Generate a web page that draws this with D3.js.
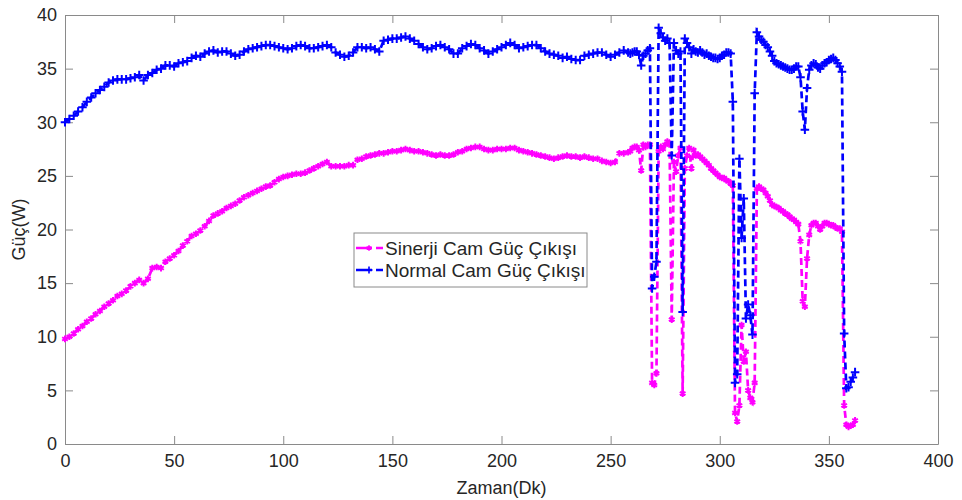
<!DOCTYPE html>
<html><head><meta charset="utf-8">
<script src="https://cdn.jsdelivr.net/npm/d3@7"></script>
<style>
body{margin:0;background:#fff}
svg{display:block}
text{font-family:"Liberation Sans",Arial,sans-serif}
</style>
</head><body>
<svg id="chart" width="962" height="500"></svg>
<script>
// ---- data ----
const minutes = [
0,2,4,6,8,10,12,14,16,18,20,22,24,26,28,30,32,34,36,38,
40,42,44,46,48,50,52,54,56,58,60,62,64,66,68,70,72,74,76,78,
80,82,84,86,88,90,92,94,96,98,100,102,104,106,108,110,112,114,116,118,
120,122,124,126,128,130,132,134,136,138,140,142,144,146,148,150,152,154,156,158,
160,162,164,166,168,170,172,174,176,178,180,182,184,186,188,190,192,194,196,198,
200,202,204,206,208,210,212,214,216,218,220,222,224,226,228,230,232,234,236,238,
240,242,244,246,248,250,252,254,256,258,
259,260,261,262,263,264,265,266,267,268,269,270,271,272,273,274,275,276,277,278,
279,280,281,282,283,284,285,286,287,288,289,290,291,292,293,294,295,296,297,298,
299,300,301,302,303,304,305,306,307,308,309,310,311,312,313,314,315,316,317,318,
319,320,321,322,323,324,325,326,327,328,329,330,331,332,333,334,335,336,337,338,
339,340,341,342,343,344,345,346,347,348,349,350,351,352,353,354,355,356,357,358,
359,360,361,362
];
const sinerjiPower = [
9.8,10.0,10.3,10.7,11.0,11.4,11.7,12.1,12.4,12.8,
13.1,13.4,13.8,14.0,14.3,14.7,15.0,15.3,15.0,15.4,
16.4,16.5,16.4,17.0,17.3,17.6,18.0,18.5,18.9,19.4,
19.6,19.9,20.3,20.8,21.3,21.5,21.7,22.0,22.2,22.4,
22.7,23.0,23.2,23.4,23.6,23.8,24.0,24.1,24.4,24.7,
24.9,25.0,25.1,25.2,25.2,25.3,25.5,25.7,25.9,26.1,
26.3,25.9,25.9,25.9,25.9,26.0,26.0,26.5,26.6,26.8,
26.9,27.0,27.1,27.1,27.2,27.3,27.3,27.4,27.5,27.4,
27.3,27.3,27.2,27.1,27.0,26.9,27.0,26.9,26.9,27.0,
27.2,27.3,27.5,27.6,27.7,27.7,27.5,27.4,27.4,27.5,
27.5,27.5,27.6,27.6,27.4,27.3,27.2,27.1,27.0,26.9,
26.8,26.7,26.6,26.7,26.8,26.9,26.8,26.8,26.7,26.8,
26.7,26.6,26.6,26.4,26.3,26.2,26.3,27.1,27.1,27.2,
27.3,27.6,27.7,27.7,27.4,25.5,27.9,27.7,27.9,27.9,
5.7,5.5,6.6,27.3,27.7,27.5,27.9,28.2,28.0,11.6,
26.3,25.4,26.9,27.6,4.7,25.7,26.9,27.6,25.7,27.4,
26.9,27.0,26.8,26.6,26.4,26.2,26.0,25.7,25.5,25.3,
25.1,24.9,24.8,24.8,24.6,24.5,24.3,24.1,2.9,2.1,
3.6,11.1,7.7,8.6,5.0,4.3,3.9,5.7,23.8,24.0,
23.8,23.7,23.4,23.1,22.7,22.3,22.2,22.1,22.0,21.8,
21.7,21.5,21.4,21.2,21.0,20.9,20.7,20.5,18.9,13.3,
12.8,17.3,19.5,20.4,20.6,20.6,20.3,20.0,20.3,20.6,
20.6,20.5,20.4,20.4,20.2,20.1,20.1,19.8,3.6,1.8,
1.6,1.7,1.8,2.2
];
const normalPower = [
30.0,30.3,30.6,31.0,31.4,31.9,32.3,32.7,33.0,33.3,
33.7,33.9,34.0,34.0,34.0,34.1,34.2,34.4,33.9,34.4,
34.6,34.9,35.0,35.3,35.3,35.2,35.5,35.6,35.7,36.0,
36.2,36.1,36.4,36.6,36.7,36.5,36.6,36.6,36.4,36.2,
36.3,36.6,36.8,36.9,37.0,37.1,37.2,37.2,37.1,37.0,
36.9,36.8,36.9,37.1,37.2,37.1,36.9,36.9,37.0,37.1,
37.2,37.0,36.5,36.3,36.1,36.2,36.5,37.0,37.0,36.9,
37.0,36.8,36.6,37.6,37.7,37.8,37.8,37.9,38.0,37.8,
37.6,37.3,37.0,36.8,36.9,37.1,37.2,37.0,36.8,36.4,
36.4,36.9,37.1,37.3,37.2,36.9,36.7,36.4,36.6,36.8,
37.0,37.2,37.4,37.2,36.9,37.0,37.1,37.2,37.2,36.9,
36.6,36.4,36.3,36.2,36.0,36.1,35.9,35.8,35.8,36.2,
36.3,36.4,36.5,36.5,36.3,36.1,36.3,36.5,36.7,36.5,
36.4,36.5,36.6,36.6,36.3,35.3,36.2,36.4,36.7,36.9,
14.5,15.6,17.0,38.8,38.3,37.9,37.6,37.8,37.4,26.9,
37.4,36.7,36.4,36.6,12.3,37.8,37.4,37.0,36.4,36.8,
36.6,36.5,36.7,36.5,36.3,36.4,36.2,36.1,36.0,36.0,
35.9,36.0,36.2,36.3,36.5,36.5,36.4,31.9,5.7,6.5,
26.6,19.2,22.9,11.7,13.0,12.0,10.2,32.7,38.4,38.0,
37.7,37.5,37.2,37.0,36.6,36.2,35.7,35.5,35.4,35.3,
35.2,35.1,35.0,34.9,34.9,35.0,35.2,35.2,34.2,31.0,
29.3,33.2,34.9,35.3,35.5,35.4,35.1,35.0,35.3,35.5,
35.6,35.8,35.9,36.0,35.8,35.5,35.2,34.7,10.3,5.2,
5.3,5.8,6.2,6.7
];
const seriesNames = ["Sinerji Cam Güç Çıkışı", "Normal Cam Güç Çıkışı"];
const seriesColors = ["#ff00ff", "#0000ff"];
const xTicks = [0, 50, 100, 150, 200, 250, 300, 350, 400];
const yTicks = [0, 5, 10, 15, 20, 25, 30, 35, 40];
const xLabel = "Zaman(Dk)";
const yLabel = "Güç(W)";

// ---- layout ----
const svg = d3.select("#chart");
const L = 65, R = 938, T = 15, B = 444;
const axisColor = "#8a8a8a", textColor = "#262626";

svg.append("rect").attr("width", 962).attr("height", 500).attr("fill", "#fff");

const x = d3.scaleLinear().domain([0, 400]).range([L, R]);
const y = d3.scaleLinear().domain([0, 40]).range([B, T]);

function styleAxis(g) {
  g.select(".domain").attr("stroke", axisColor);
  g.selectAll(".tick line").attr("stroke", axisColor);
  g.selectAll(".tick text").attr("fill", textColor).style("font-size", "18px")
    .style("font-family", '"Liberation Sans", Arial, sans-serif');
}

svg.append("g").attr("transform", `translate(0,${B})`)
  .call(d3.axisBottom(x).tickValues(xTicks).tickSizeInner(-8).tickSizeOuter(0).tickPadding(10))
  .call(styleAxis);
svg.append("g").attr("transform", `translate(0,${T})`)
  .call(d3.axisTop(x).tickValues(xTicks).tickSizeInner(-8).tickSizeOuter(0).tickFormat(""))
  .call(styleAxis);
svg.append("g").attr("transform", `translate(${L},0)`)
  .call(d3.axisLeft(y).tickValues(yTicks).tickSizeInner(-8).tickSizeOuter(0).tickPadding(8))
  .call(styleAxis);
svg.append("g").attr("transform", `translate(${R},0)`)
  .call(d3.axisRight(y).tickValues(yTicks).tickSizeInner(-8).tickSizeOuter(0).tickFormat(""))
  .call(styleAxis);

svg.append("text").attr("x", (L + R) / 2).attr("y", 494).attr("text-anchor", "middle")
  .attr("fill", textColor).style("font-size", "18px").text(xLabel);
svg.append("text").attr("transform", `translate(25,${(T + B) / 2}) rotate(-90)`)
  .attr("text-anchor", "middle").attr("fill", textColor).style("font-size", "18px").text(yLabel);

// ---- series ----
const symPink = d3.symbolAsterisk || d3.symbolStar;
const symBlue = d3.symbolPlus || d3.symbolCross;
const series = [
  { name: seriesNames[0], color: seriesColors[0], values: sinerjiPower, sym: symPink, size: 30 },
  { name: seriesNames[1], color: seriesColors[1], values: normalPower, sym: symBlue, size: 26 }
];
const line = d3.line().x(d => x(d[0])).y(d => y(d[1]));

series.forEach(s => {
  const pts = minutes.map((m, i) => [m, s.values[i]]);
  const g = svg.append("g");
  g.append("path").datum(pts).attr("d", line).attr("fill", "none")
    .attr("stroke", s.color).attr("stroke-width", 2.7).attr("stroke-dasharray", "7,4");
  g.selectAll("path.mk").data(pts).join("path").attr("class", "mk")
    .attr("transform", d => `translate(${x(d[0])},${y(d[1])})`)
    .attr("d", d3.symbol().type(s.sym).size(s.size))
    .attr("fill", s.color).attr("stroke", s.color).attr("stroke-width", 2);
});

// ---- legend ----
const lg = svg.append("g");
lg.append("rect").attr("x", 354).attr("y", 233).attr("width", 233).attr("height", 54)
  .attr("fill", "#fff").attr("stroke", axisColor);
series.forEach((s, i) => {
  const cy = 248 + i * 22;
  lg.append("line").attr("x1", 356).attr("x2", 383).attr("y1", cy).attr("y2", cy)
    .attr("stroke", s.color).attr("stroke-width", 2.5).attr("stroke-dasharray", "16,4,7");
  lg.append("path").attr("transform", `translate(369,${cy})`)
    .attr("d", d3.symbol().type(s.sym).size(s.size * 0.7))
    .attr("fill", s.color).attr("stroke", s.color).attr("stroke-width", 1.6);
  lg.append("text").attr("x", 385).attr("y", cy).attr("dy", "0.35em")
    .attr("fill", textColor).style("font-size", "19px").text(s.name);
});
</script>
</body></html>
